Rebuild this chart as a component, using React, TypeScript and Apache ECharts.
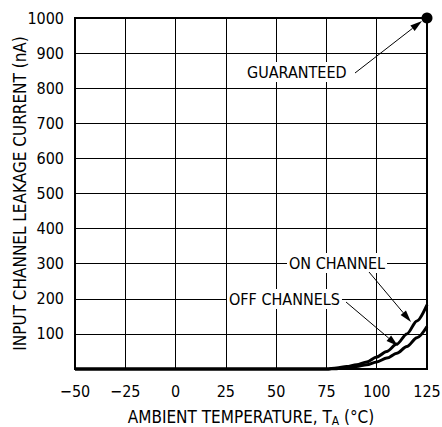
import React, { useEffect, useRef } from 'react';
import * as echarts from 'echarts';

const TEMPS = [-50, -25, 0, 25, 50, 75, 80, 85, 90, 95, 100, 105, 110, 115, 120, 125];
const ON_CHANNEL = [0, 0, 0, 0, 0, 0, 3, 7, 12, 20, 34, 50, 71, 100, 137, 183];
const OFF_CHANNELS = [0, 0, 0, 0, 0, 0, 1, 4, 7, 12, 20, 31, 45, 64, 89, 121];
const GUARANTEED = [[125, 1000]];
const X_TICK_LABELS = ['\u221250', '\u221225', '0', '25', '50', '75', '100', '125'];
const Y_TICK_LABELS = ['', '100', '200', '300', '400', '500', '600', '700', '800', '900', '1000'];

const FONT = '"Liberation Sans Narrow", "Arial Narrow", "DejaVu Sans Condensed", sans-serif';

function arrow(x1: number, y1: number, x2: number, y2: number) {
  const dx = x2 - x1;
  const dy = y2 - y1;
  const len = Math.sqrt(dx * dx + dy * dy);
  const ux = dx / len;
  const uy = dy / len;
  const hl = 12;
  const hw = 3.5;
  const bx = x2 - ux * hl;
  const by = y2 - uy * hl;
  return [
    { type: 'line', shape: { x1, y1, x2: bx, y2: by }, style: { stroke: '#000', lineWidth: 1 }, z: 100 },
    {
      type: 'polygon',
      shape: { points: [[x2, y2], [bx - uy * hw, by + ux * hw], [bx + uy * hw, by - ux * hw]] },
      style: { fill: '#000' },
      z: 100,
    },
  ];
}

function label(text: string, x: number, y: number) {
  return {
    type: 'text',
    x,
    y,
    z: 90,
    style: {
      text,
      font: `16px ${FONT}`,
      fill: '#000',
      textVerticalAlign: 'middle',
      verticalAlign: 'middle',
      backgroundColor: '#fff',
      padding: [2, 2],
    },
  };
}

export default function App() {
  const ref = useRef<HTMLDivElement>(null);
  useEffect(() => {
    if (!ref.current) return;
    const chart = echarts.init(ref.current, undefined, { renderer: 'svg' });
    const axisLabel = { color: '#000', fontSize: 16, fontFamily: FONT };
    chart.setOption({
      animation: false,
      backgroundColor: '#fff',
      grid: {
        left: 75, top: 18, right: 15, bottom: 58,
        outerBoundsMode: 'none',
        containLabel: false,
        show: true, borderColor: '#000', borderWidth: 2, backgroundColor: 'transparent',
      },
      xAxis: {
        type: 'value',
        min: -50,
        max: 125,
        interval: 25,
        axisLine: { show: false },
        axisTick: { show: false },
        splitLine: { show: true, lineStyle: { color: '#000', width: 1 } },
        axisLabel: { ...axisLabel, margin: 14, formatter: (v: number) => X_TICK_LABELS[Math.round((v + 50) / 25)] },
        name: 'AMBIENT TEMPERATURE, T{sub|A} (\u00b0C)',
        nameLocation: 'middle',
        nameGap: 38,
        nameMoveOverlap: false,
        nameTextStyle: {
          color: '#000',
          fontSize: 17,
          fontFamily: FONT,
          rich: { sub: { fontSize: 12, fontFamily: FONT, color: '#000', verticalAlign: 'bottom', padding: [8, 0, 0, 0] } },
        },
      },
      yAxis: {
        type: 'value',
        min: 0,
        max: 1000,
        interval: 100,
        axisLine: { show: false },
        axisTick: { show: false },
        splitLine: { show: true, lineStyle: { color: '#000', width: 1 } },
        axisLabel: { ...axisLabel, margin: 11, formatter: (v: number) => Y_TICK_LABELS[Math.round(v / 100)] },
        name: 'INPUT CHANNEL LEAKAGE CURRENT (nA)',
        nameLocation: 'middle',
        nameGap: 47,
        nameMoveOverlap: false,
        nameTextStyle: { color: '#000', fontSize: 17, fontFamily: FONT },
      },
      series: [
        {
          type: 'line',
          data: TEMPS.map((t, i) => [t, ON_CHANNEL[i]]),
          showSymbol: false,
          smooth: 0.3,
          smoothMonotone: 'x',
          clip: false,
          lineStyle: { color: '#000', width: 3 },
          z: 5,
        },
        {
          type: 'line',
          data: TEMPS.map((t, i) => [t, OFF_CHANNELS[i]]),
          showSymbol: false,
          smooth: 0.3,
          smoothMonotone: 'x',
          clip: false,
          lineStyle: { color: '#000', width: 3 },
          z: 5,
        },
        {
          type: 'scatter',
          data: GUARANTEED,
          symbolSize: 11,
          clip: false,
          itemStyle: { color: '#000', opacity: 1 },
          emphasis: { disabled: true },
          z: 6,
        },
      ],
      graphic: [
        label('GUARANTEED', 245, 72),
        ...arrow(355, 73, 422, 21),
        label('ON CHANNEL', 287, 263),
        ...arrow(369, 272, 411, 322),
        label('OFF CHANNELS', 227, 299),
        ...arrow(346, 302, 398, 346),
      ],
    });
    return () => chart.dispose();
  }, []);
  return <div ref={ref} style={{ position: 'fixed', left: 0, top: 0, width: 442, height: 427 }} />;
}
